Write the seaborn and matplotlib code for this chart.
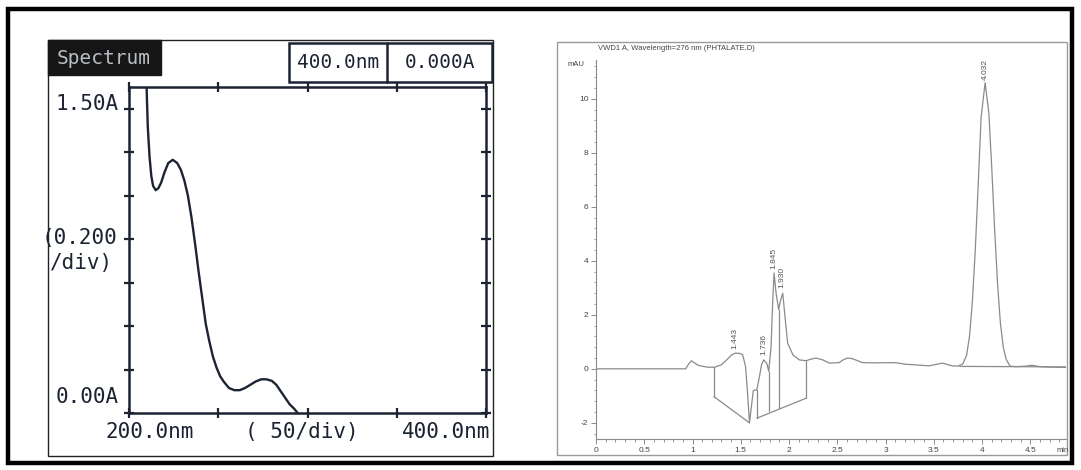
import numpy as np
import pandas as pd
import seaborn as sns
import matplotlib.pyplot as plt
from matplotlib.patches import Rectangle

# UV spectrum (left panel)
wavelength_nm = [209.5, 210.5, 211.5, 212.5, 213.5, 215.0, 216.5, 218.0, 220.0, 222.0,
                 224.5, 227.0, 229.0, 231.0, 233.0, 235.0, 237.0, 239.0, 241.0, 243.0,
                 245.0, 247.0, 249.0, 251.0, 253.0, 256.0, 259.0, 262.0, 265.0, 268.0,
                 271.0, 274.0, 277.0, 280.0, 282.5, 285.0, 287.5, 290.0, 292.5, 294.5]
absorbance = [1.60, 1.32, 1.18, 1.09, 1.045, 1.025, 1.035, 1.06, 1.11, 1.15,
              1.165, 1.15, 1.12, 1.07, 1.00, 0.90, 0.78, 0.65, 0.53, 0.41,
              0.33, 0.26, 0.21, 0.17, 0.145, 0.115, 0.105, 0.105, 0.115, 0.13,
              0.145, 0.155, 0.155, 0.148, 0.13, 0.10, 0.07, 0.04, 0.02, 0.0]

# HPLC chromatogram (right panel)
time_min = [0.0, 0.93, 0.96, 0.99, 1.02, 1.06, 1.11, 1.16, 1.23, 1.30, 1.36, 1.40,
            1.443, 1.49, 1.52, 1.55, 1.573, 1.59, 1.607, 1.63, 1.666, 1.694, 1.715,
            1.738, 1.77, 1.79, 1.814, 1.83, 1.845, 1.866, 1.893, 1.91, 1.935, 1.962,
            1.986, 2.04, 2.107, 2.176, 2.23, 2.28, 2.35, 2.42, 2.52, 2.56, 2.606,
            2.65, 2.69, 2.76, 2.9, 3.1, 3.21, 3.45, 3.59, 3.69, 3.75, 3.80, 3.84,
            3.87, 3.90, 3.93, 3.96, 3.99, 4.032, 4.07, 4.10, 4.13, 4.16, 4.19, 4.22,
            4.25, 4.29, 4.35, 4.45, 4.52, 4.60, 4.75, 4.87]
signal_mau = [0.0, 0.0, 0.18, 0.30, 0.22, 0.13, 0.09, 0.06, 0.06, 0.15, 0.35, 0.50,
              0.58, 0.57, 0.52, 0.08, -1.03, -2.0, -1.5, -0.8, -0.78, -0.28, 0.15,
              0.33, 0.2, -0.1, 0.83, 2.4, 3.55, 2.8, 2.19, 2.5, 2.8, 1.8,
              0.95, 0.52, 0.33, 0.30, 0.36, 0.40, 0.33, 0.21, 0.23, 0.33, 0.40,
              0.38, 0.33, 0.23, 0.22, 0.23, 0.17, 0.11, 0.21, 0.11, 0.10, 0.18, 0.5,
              1.2, 2.5, 4.4, 6.8, 9.3, 10.6, 9.5, 7.5, 5.2, 3.2, 1.7, 0.8,
              0.35, 0.1, 0.08, 0.1, 0.13, 0.08, 0.06, 0.05]

peak_times = [1.443, 1.736, 1.845, 1.930, 4.032]
peak_labels = ["1.443", "1.736", "1.845", "1.930", "4.032"]
peak_label_base = [0.75, 0.5, 3.7, 3.0, 10.7]

# integration baseline segments (start x, start y, end x, end y)
base_x0 = [1.222, 1.222, 1.666, 1.666, 1.79, 1.893, 2.176, 3.77]
base_y0 = [0.06, -1.03, -1.83, -1.83, -1.58, -1.46, -1.09, 0.09]
base_x1 = [1.222, 1.59, 2.176, 1.666, 1.79, 1.893, 2.176, 4.87]
base_y1 = [-1.03, -2.0, -1.09, -0.8, -0.1, 2.19, 0.30, 0.07]

spectrum = pd.DataFrame({"nm": wavelength_nm, "A": absorbance})
chrom = pd.DataFrame({"t": time_min, "mAU": signal_mau})

sns.set_style("white")
plt.rcParams["font.family"] = ["DejaVu Sans"]
plt.rcParams["axes.unicode_minus"] = False

W, H = 1081, 470
fig = plt.figure(figsize=(W / 100, H / 100), dpi=100)


def rect(x0, y0, x1, y1):
    return [x0 / W, 1 - y1 / H, (x1 - x0) / W, (y1 - y0) / H]


# overlay in pixel coordinates for frames and text
bg = fig.add_axes([0, 0, 1, 1])
bg.set_xlim(0, W)
bg.set_ylim(H, 0)
bg.axis("off")
bg.add_patch(Rectangle((8, 9), 1064, 454, fill=False, lw=3.2, ec="black"))
bg.add_patch(Rectangle((48, 40), 445, 416, fill=False, lw=1.0, ec="#222222"))
bg.add_patch(Rectangle((557, 42), 510, 413, fill=False, lw=1.0, ec="#9a9a9a"))

# left panel header
navy = "#1c2433"
mono = ["DejaVu Sans Mono"]
bg.add_patch(Rectangle((48, 40), 113, 35, color="#161616"))
bg.text(104, 58, "Spectrum", color="#b8bec4", fontsize=14, family=mono,
        ha="center", va="center")
bg.add_patch(Rectangle((289, 43), 203, 39, fill=False, lw=1.8, ec=navy))
bg.plot([387, 387], [43, 82], color=navy, lw=1.8)
bg.text(338, 63, "400.0nm", color=navy, fontsize=14, family=mono, ha="center", va="center")
bg.text(440, 63, "0.000A", color=navy, fontsize=14, family=mono, ha="center", va="center")
bg.text(119, 104, "1.50A", color=navy, fontsize=15, family=mono, ha="right", va="center")
bg.text(117, 238, "(0.200", color=navy, fontsize=15, family=mono, ha="right", va="center")
bg.text(113, 263, "/div)", color=navy, fontsize=15, family=mono, ha="right", va="center")
bg.text(119, 397, "0.00A", color=navy, fontsize=15, family=mono, ha="right", va="center")
bg.text(150, 432, "200.0nm", color=navy, fontsize=15, family=mono, ha="center", va="center")
bg.text(302, 432, "( 50/div)", color=navy, fontsize=15, family=mono, ha="center", va="center")
bg.text(446, 432, "400.0nm", color=navy, fontsize=15, family=mono, ha="center", va="center")

# left spectrum axes
ax1 = fig.add_axes(rect(129, 87, 486, 413))
ax1.patch.set_alpha(0)
sns.lineplot(data=spectrum, x="nm", y="A", ax=ax1, color=navy, lw=1.7, sort=False)
ax1.set_xlim(200, 400)
ax1.set_ylim(0, 1.5)
ax1.set_xticks([200, 250, 300, 350, 400])
ax1.set_yticks(np.arange(0, 1.41, 0.2))
ax1.set_xticklabels([])
ax1.set_yticklabels([])
ax1.set_xlabel("")
ax1.set_ylabel("")
ax1.tick_params(direction="inout", length=7, width=1.6, color=navy,
                top=True, right=True, bottom=True, left=True)
for s in ax1.spines.values():
    s.set_color(navy)
    s.set_linewidth(1.8)

# right chromatogram axes
gray = "#8a8a8a"
ax2 = fig.add_axes(rect(596, 60, 1066, 439))
ax2.patch.set_alpha(0)
sns.lineplot(data=chrom, x="t", y="mAU", ax=ax2, color=gray, lw=0.9, sort=False)
for xa, ya, xb, yb in zip(base_x0, base_y0, base_x1, base_y1):
    ax2.plot([xa, xb], [ya, yb], color=gray, lw=0.9)
for t, lab, yb in zip(peak_times, peak_labels, peak_label_base):
    ax2.text(t, yb, lab, rotation=90, fontsize=6, color="#555555",
             ha="center", va="bottom", family=["Liberation Sans"])
ax2.set_xlim(0, 4.87)
ax2.set_ylim(-2.6, 11.44)
ax2.set_xticks(np.arange(0, 4.51, 0.5))
ax2.set_xticklabels(["0", "0.5", "1", "1.5", "2", "2.5", "3", "3.5", "4", "4.5"])
ax2.set_yticks([-2, 0, 2, 4, 6, 8, 10])
ax2.set_xticks(np.arange(0, 4.86, 0.1), minor=True)
ax2.set_yticks(np.arange(-2.4, 11.41, 0.4), minor=True)
ax2.set_xlabel("")
ax2.set_ylabel("")
ax2.tick_params(which="major", direction="out", length=3.5, width=0.7, color=gray,
                labelsize=6, labelcolor="#444444", pad=2,
                bottom=True, left=True)
ax2.tick_params(which="minor", direction="out", length=1.8, width=0.6, color=gray,
                bottom=True, left=True)
for lab in ax2.get_xticklabels() + ax2.get_yticklabels():
    lab.set_family(["Liberation Sans"])
sns.despine(ax=ax2)
for s in ("left", "bottom"):
    ax2.spines[s].set_color(gray)
    ax2.spines[s].set_linewidth(0.8)

bg.text(598, 49, "VWD1 A, Wavelength=276 nm (PHTALATE.D)", fontsize=5.5,
        color="#444444", ha="left", va="center", family=["Liberation Sans"])
bg.text(568, 65, "mAU", fontsize=5.5, color="#444444", ha="left", va="center",
        family=["Liberation Sans"])
bg.text(1057, 450, "min", fontsize=5.5, color="#444444", ha="left", va="center",
        family=["Liberation Sans"])

fig.savefig("out.png", dpi=100)
